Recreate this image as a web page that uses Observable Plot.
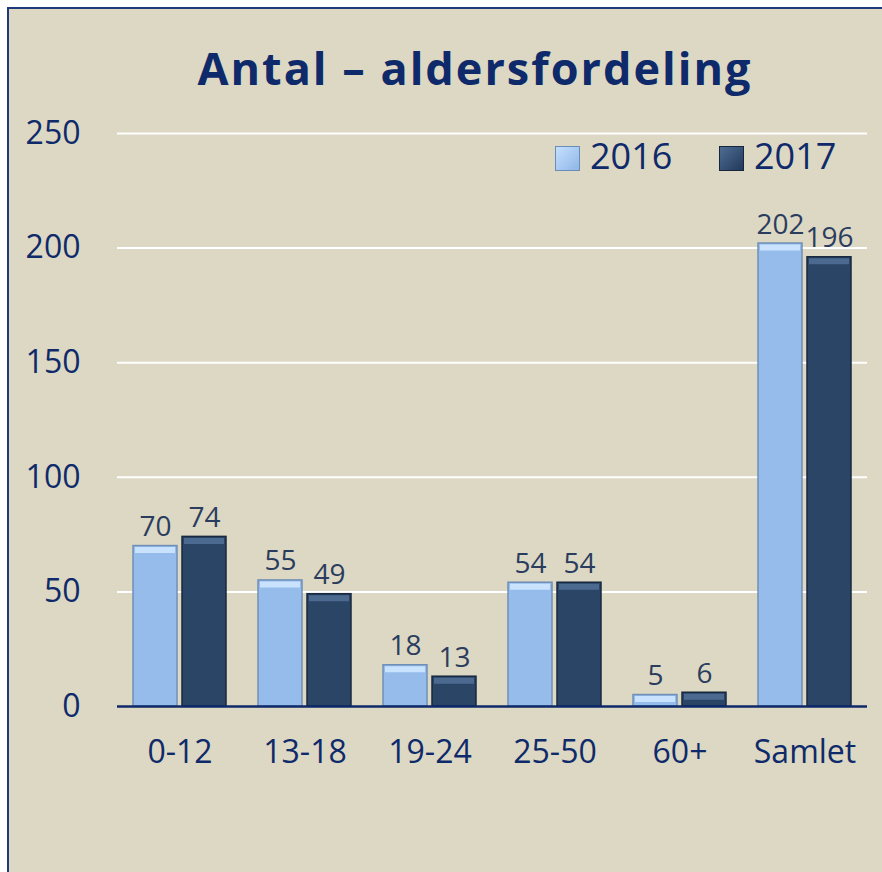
<!DOCTYPE html>
<html>
<head>
<meta charset="utf-8">
<script src="https://cdn.jsdelivr.net/npm/d3@7"></script>
<script src="https://cdn.jsdelivr.net/npm/@observablehq/plot@0.6"></script>
<style>
  html, body { margin: 0; padding: 0; background: #ffffff; }
  #frame { position: relative; width: 882px; height: 872px; overflow: hidden; background: #ffffff; }
  #panel { position: absolute; left: 7px; top: 7px; right: -10px; bottom: -10px;
           background: #DDD8C3; border-left: 2px solid #1F3A7A; border-top: 2px solid #1F3A7A; }
  #title { position: absolute; left: 0; width: 950px; top: 41px; text-align: center;
           font-family: "Open Sans", sans-serif; font-weight: 700; font-size: 45px; color: #0E2A6A;
           letter-spacing: 2px; line-height: 1.2; }
  #chart { position: absolute; left: 0; top: 0; }
  .leg { position: absolute; font-family: "Open Sans", sans-serif; font-size: 36px; color: #0E2A6A; line-height: 1; }
  .sw { position: absolute; width: 23px; height: 23px; }
</style>
</head>
<body>
<div id="frame">
  <div id="panel"></div>
  <div id="title">Antal – aldersfordeling</div>
  <div id="chart"></div>
  <div class="sw" style="left:555px;top:146px;background:linear-gradient(135deg,#C6E0FF,#8FB6E6);border:1px solid #6A8DB8;"></div>
  <div class="leg" style="left:590px;top:138px;">2016</div>
  <div class="sw" style="left:719px;top:146px;background:linear-gradient(135deg,#4E6D94,#22395A);border:1px solid #16263F;"></div>
  <div class="leg" style="left:754px;top:138px;">2017</div>
</div>
<script>
const categories = ["0-12", "13-18", "19-24", "25-50", "60+", "Samlet"];
const years = ["2016", "2017"];
const values2016 = [70, 55, 18, 54, 5, 202];
const values2017 = [74, 49, 13, 54, 6, 196];
const yTicks = [0, 50, 100, 150, 200, 250];

const lightFill = "#95BCEA", darkFill = "#2A4566";
const data = [];
categories.forEach((c, i) => {
  data.push({cat: c, year: "2016", value: values2016[i]});
  data.push({cat: c, year: "2017", value: values2017[i]});
});
const d16 = data.filter(d => d.year === "2016");
const d17 = data.filter(d => d.year === "2017");

const chart = Plot.plot({
  width: 882,
  height: 872,
  marginTop: 133,
  marginBottom: 166,
  marginLeft: 117,
  marginRight: 15,
  style: {background: "transparent", fontFamily: "'Open Sans', sans-serif", color: "#0E2A6A", overflow: "visible"},
  fx: {domain: categories, padding: 0, label: null, axis: null},
  x: {domain: years, axis: null, paddingInner: 0.1, paddingOuter: 0.32},
  y: {domain: [0, 250], label: null},
  color: {domain: years, range: [lightFill, darkFill]},
  marks: [
    Plot.ruleY(yTicks.filter(t => t > 0), {stroke: "#ffffff", strokeWidth: 2}),
    Plot.barY(d16, {fx: "cat", x: "year", y: "value", fill: lightFill, stroke: "#6F8FB6", strokeWidth: 1.5,
      style: "filter: drop-shadow(3px 1px 2px rgba(60,50,30,0.45))"}),
    Plot.barY(d17, {fx: "cat", x: "year", y: "value", fill: darkFill, stroke: "#17283F", strokeWidth: 1.5,
      style: "filter: drop-shadow(3px 1px 2px rgba(60,50,30,0.45))"}),
    Plot.tickY(d16, {fx: "cat", x: "year", y: "value", stroke: "#C9E3FF", strokeWidth: 6, dy: 4, insetLeft: 2, insetRight: 2}),
    Plot.tickY(d17, {fx: "cat", x: "year", y: "value", stroke: "#4C6A90", strokeWidth: 6, dy: 4, insetLeft: 2, insetRight: 2}),
    Plot.ruleY([0], {stroke: "#0E2A6A", strokeWidth: 2.5}),
    Plot.text(data, {fx: "cat", x: "year", y: "value", text: d => String(d.value), lineAnchor: "bottom", dy: -10,
      fontSize: 28, fill: "#2B3D5E"}),
    Plot.axisY({ticks: yTicks, tickSize: 0, tickPadding: 37, fontSize: 32, label: null, fill: "#0E2A6A"}),
    Plot.axisFx({anchor: "bottom", tickSize: 0, tickPadding: 34, fontSize: 32, label: null, fill: "#0E2A6A"})
  ]
});
document.getElementById("chart").appendChild(chart);
</script>
</body>
</html>
